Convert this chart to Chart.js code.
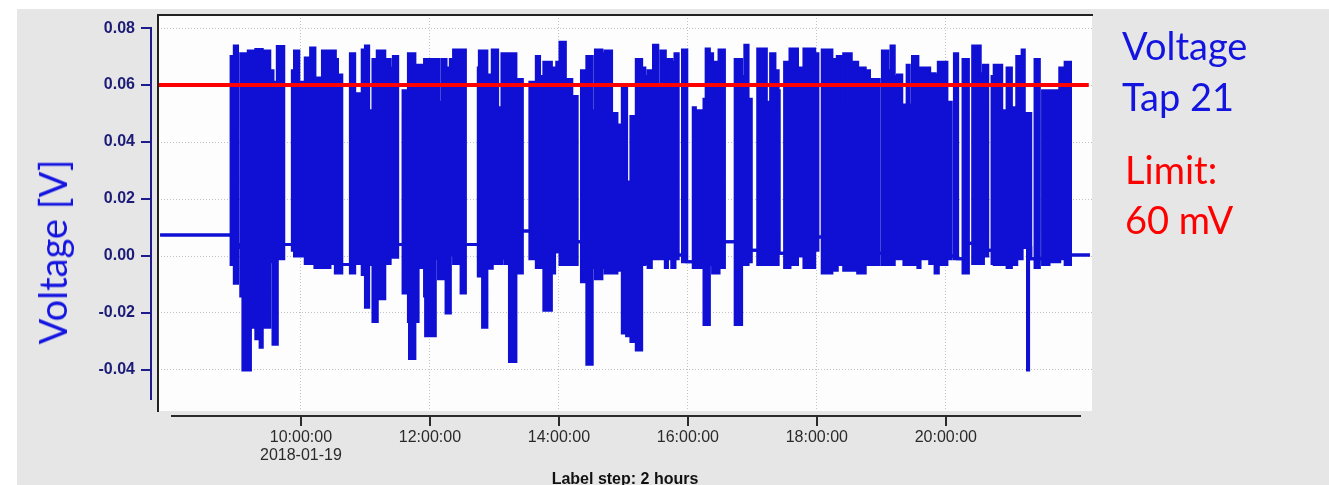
<!DOCTYPE html>
<html>
<head>
<meta charset="utf-8">
<title>Voltage Tap 21</title>
<script src="https://cdn.jsdelivr.net/npm/chart.js@4.4.1/dist/chart.umd.min.js"></script>
<style>
  html, body { margin: 0; padding: 0; background: #fff; }
  #wrap { position: relative; width: 1329px; height: 485px; overflow: hidden; }
  #bg { position: absolute; left: 17px; top: 9px; right: 0; bottom: 0; background: #e6e6e6; }
  #chart { position: absolute; left: 0; top: 0; }
  .note { position: absolute; font-family: Lato, "Open Sans", sans-serif; font-size: 38px; white-space: nowrap; }
</style>
</head>
<body>
<div id="wrap">
  <div id="bg"></div>
  <canvas id="chart" width="1329" height="485"></canvas>
  <div class="note" id="ytitle" style="left:52px; top:252px; line-height:38px; color:#1414e0; transform:translate(-50%,-50%) rotate(-90deg);">Voltage [V]</div>
  <div class="note" style="left:1122px; top:20px; line-height:51px; color:#1414e0;">Voltage<br>Tap 21</div>
  <div class="note" style="left:1125px; top:144px; line-height:50px; color:#ff0000;">Limit:<br>60 mV</div>
</div>
<script>
// minutes after 00:00 on 2018-01-19; each value holds until the next time
const times = [
  469, 535, 538, 541, 544, 546, 549, 551, 553, 558,
  562, 564, 571, 574, 578, 584, 592, 594, 598, 604,
  607, 609, 613, 619, 620, 627, 632, 634, 638, 646,
  650, 657, 660, 663, 667, 671, 678, 683, 686, 690,
  695, 700, 701, 706, 709, 715, 716, 725, 728, 731,
  735, 739, 742, 749, 753, 765, 766, 769, 773, 778,
  783, 787, 790, 794, 800, 806, 813, 819, 822, 826,
  833, 836, 838, 841, 846, 852, 857, 861, 866, 871,
  874, 880, 883, 889, 894, 899, 903, 907, 912, 917,
  920, 923, 926, 928, 932, 935, 939, 941, 945, 948,
  951, 955, 959, 965, 967, 969, 973, 975, 977, 980,
  983, 987, 989, 994, 1004, 1010, 1013, 1016, 1019, 1025,
  1033, 1037, 1041, 1044, 1045, 1050, 1055, 1062, 1068, 1078,
  1081, 1085, 1094, 1099, 1103, 1105, 1112, 1118, 1125, 1129,
  1131, 1138, 1141, 1146, 1149, 1152, 1155, 1159, 1161, 1164,
  1166, 1169, 1174, 1176, 1185, 1190, 1193, 1201, 1205, 1208,
  1211, 1216, 1221, 1225, 1232, 1235, 1239, 1243, 1245, 1252,
  1257, 1261, 1266, 1271, 1273, 1276, 1277, 1279, 1283, 1287,
  1290, 1296, 1306, 1311, 1316, 1334
];

// upper edge of the voltage trace [V]
const highs = [
  0.0074, 0.070, 0.0737, 0.004, 0.071, 0.071, 0.055, 0.072, 0.072, 0.0725,
  0.0725, 0.072, 0.065, 0.061, 0.0735, 0.004, 0.065, 0.072, 0.061, 0.0695,
  0.056, 0.073, 0.0625, 0.050, 0.072, 0.072, 0.069, 0.0635, -0.003, 0.071,
  0.057, 0.0723, 0.0737, 0.051, 0.069, 0.072, 0.069, 0.066, 0.070, 0.004,
  0.058, 0.071, 0.071, 0.067, 0.067, 0.069, 0.069, 0.069, 0.054, 0.069,
  0.066, 0.069, 0.0723, 0.0723, 0.004, 0.066, 0.072, 0.072, 0.0635, 0.0723,
  0.052, 0.071, 0.071, 0.071, 0.062, 0.0088, 0.061, 0.070, 0.063, 0.068,
  0.066, 0.0015, 0.068, 0.075, 0.062, 0.056, 0.005, 0.065, 0.070, 0.051,
  0.0723, 0.071, 0.072, 0.050, 0.046, 0.059, 0.026, 0.049, 0.069, 0.066,
  0.063, 0.065, 0.059, 0.074, 0.059, 0.072, 0.067, 0.069, 0.068, 0.071,
  0.0004, 0.0723, -0.002, 0.052, -0.002, 0.051, -0.002, 0.055, 0.0727, 0.071,
  0.068, 0.055, 0.0723, 0.005, 0.069, 0.063, 0.074, 0.055, 0.002, 0.0727,
  0.054, 0.071, 0.065, 0.058, 0.001, 0.068, 0.0727, 0.066, 0.0727, 0.071,
  0.0067, 0.0723, 0.069, 0.070, 0.053, 0.071, 0.068, 0.066, 0.065, 0.056,
  0.062, 0.001, 0.072, 0.065, 0.0737, 0.063, 0.0635, 0.000, 0.053, 0.067,
  0.053, 0.070, 0.066, 0.066, 0.064, 0.0635, 0.068, 0.054, 0.000, 0.071,
  -0.001, 0.069, 0.0045, 0.0737, 0.064, 0.067, 0.002, 0.063, 0.067, 0.051,
  0.066, 0.052, 0.070, 0.0723, 0.050, 0.050, 0.050, -0.001, 0.069, -0.001,
  0.058, 0.058, 0.066, 0.068, 0.0004, 0.0004
];

// lower edge of the voltage trace [V]
const lows = [
  0.0074, -0.003, -0.0096, 0.003, -0.014, -0.040, -0.040, -0.040, -0.025, -0.029,
  -0.032, -0.025, -0.002, -0.031, -0.001, 0.004, 0.002, 0.000, 0.000, -0.0026,
  -0.0026, -0.0026, -0.004, -0.004, -0.004, -0.0026, -0.006, -0.006, -0.003, -0.006,
  -0.0026, -0.0065, -0.018, -0.003, -0.023, -0.015, -0.0026, -0.0004, -0.0004, 0.004,
  -0.013, -0.023, -0.036, -0.023, -0.004, -0.014, -0.028, -0.0008, -0.008, -0.008,
  -0.020, 0.0004, -0.0026, -0.013, 0.004, -0.007, -0.007, -0.025, -0.0043, -0.0026,
  -0.0026, -0.0008, -0.0026, -0.037, -0.006, 0.0088, -0.001, -0.004, -0.004, -0.019,
  -0.006, 0.0015, 0.0015, -0.003, -0.003, -0.003, 0.005, -0.009, -0.038, -0.004,
  -0.008, -0.004, -0.006, -0.006, -0.005, -0.027, -0.028, -0.030, -0.033, -0.003,
  -0.0026, -0.004, -0.001, -0.001, -0.001, -0.001, -0.004, -0.001, -0.004, -0.001,
  0.0004, -0.002, -0.002, -0.004, -0.002, -0.004, -0.002, -0.024, -0.024, -0.003,
  -0.006, -0.006, -0.004, 0.005, -0.024, -0.003, -0.003, -0.002, 0.002, -0.003,
  -0.003, -0.003, -0.003, 0.001, 0.001, -0.004, -0.003, 0.000, -0.004, 0.002,
  0.0067, -0.006, -0.005, -0.003, -0.003, -0.005, -0.005, -0.006, -0.003, -0.003,
  -0.003, 0.001, -0.003, -0.003, -0.003, -0.001, -0.001, 0.000, -0.003, -0.003,
  -0.003, -0.003, -0.004, -0.001, -0.0026, -0.006, -0.003, -0.001, 0.000, -0.001,
  -0.001, -0.006, 0.0045, -0.0026, -0.0026, 0.000, 0.002, -0.0026, -0.003, -0.003,
  -0.004, -0.003, -0.001, 0.003, 0.003, -0.040, 0.003, -0.001, -0.004, -0.001,
  -0.003, -0.002, -0.001, -0.003, 0.0004, 0.0004
];

const limitValue = 0.06;
const limitTimes = [467, 1333];

const xTicks = [600, 720, 840, 960, 1080, 1200];
const xTickLabels = [["10:00:00", "2018-01-19"], "12:00:00", "14:00:00", "16:00:00", "18:00:00", "20:00:00"];
const yTicks = [-0.04, -0.02, 0, 0.02, 0.04, 0.06, 0.08];

const traceBlue = "#1010d4";
const labelFont = '"Liberation Sans", Arial, sans-serif';

// plot frame and the offset axis lines of the original tool
const axisLines = {
  id: "axisLines",
  beforeDraw(chart) {
    const { ctx, chartArea: a } = chart;
    ctx.save();
    ctx.fillStyle = "#fdfdfd";
    ctx.fillRect(a.left, a.top, a.right - a.left, a.bottom - a.top);
    ctx.restore();
  },
  afterDraw(chart) {
    const { ctx, chartArea: a, scales } = chart;
    ctx.save();
    ctx.lineWidth = 2;

    ctx.strokeStyle = "#222";
    ctx.beginPath();
    ctx.moveTo(a.left, a.bottom + 1);
    ctx.lineTo(a.left, a.top);
    ctx.lineTo(a.right + 1, a.top);
    ctx.stroke();

    // y axis (blue)
    const yx = a.left - 7;
    ctx.strokeStyle = "#1c1c8c";
    ctx.beginPath();
    ctx.moveTo(yx, scales.y.getPixelForValue(yTicks[yTicks.length - 1]) - 1);
    ctx.lineTo(yx, a.bottom - 11);
    scales.y.ticks.forEach((t) => {
      const py = Math.round(scales.y.getPixelForValue(t.value));
      ctx.moveTo(yx - 10, py);
      ctx.lineTo(yx, py);
    });
    ctx.stroke();

    // x axis (black)
    const xy = a.bottom + 5;
    ctx.strokeStyle = "#2a2a2a";
    ctx.beginPath();
    ctx.moveTo(a.left + 13, xy);
    ctx.lineTo(a.right - 11, xy);
    scales.x.ticks.forEach((t) => {
      const px = Math.round(scales.x.getPixelForValue(t.value));
      ctx.moveTo(px, xy);
      ctx.lineTo(px, xy + 10);
    });
    ctx.stroke();
    ctx.restore();
  },
};

new Chart(document.getElementById("chart"), {
  type: "line",
  data: {
    datasets: [
      {
        label: "Limit",
        data: limitTimes.map((t) => ({ x: t, y: limitValue })),
        borderColor: "#ff0000",
        borderWidth: 4,
        pointRadius: 0,
        fill: false,
        order: 0,
      },
      {
        label: "Voltage max",
        data: times.map((t, i) => ({ x: t, y: highs[i] })),
        borderColor: traceBlue,
        backgroundColor: traceBlue,
        borderWidth: 3,
        pointRadius: 0,
        stepped: true,
        fill: "+1",
        order: 1,
      },
      {
        label: "Voltage min",
        data: times.map((t, i) => ({ x: t, y: lows[i] })),
        borderColor: traceBlue,
        borderWidth: 3,
        pointRadius: 0,
        stepped: true,
        fill: false,
        order: 2,
      },
    ],
  },
  options: {
    animation: false,
    responsive: false,
    events: [],
    layout: { padding: { top: 15, right: 237, bottom: 0, left: 0 } },
    plugins: {
      legend: { display: false },
      tooltip: { enabled: false },
    },
    scales: {
      x: {
        type: "linear",
        min: 467,
        max: 1336,
        afterFit: (s) => { s.height = 74; },
        afterBuildTicks: (s) => { s.ticks = xTicks.map((v) => ({ value: v })); },
        grid: { color: "#c2c2c2", lineWidth: 1, drawTicks: false },
        border: { display: false, dash: [1, 2] },
        ticks: {
          padding: 18,
          color: "#2a2a2a",
          maxRotation: 0,
          autoSkip: false,
          font: { family: labelFont, size: 16, lineHeight: 1.12 },
          callback: (v, i) => xTickLabels[i],
        },
        title: {
          display: true,
          text: "Label step: 2 hours",
          color: "#111",
          font: { family: labelFont, size: 16, weight: "bold" },
          padding: { top: 0, bottom: -4 },
        },
      },
      y: {
        min: -0.0544,
        max: 0.0846,
        afterFit: (s) => { s.width = 158; },
        afterBuildTicks: (s) => { s.ticks = yTicks.map((v) => ({ value: v })); },
        // invisible tick marks keep the labels 23px off the plot frame
        grid: { color: "#c2c2c2", lineWidth: 1, drawTicks: true, tickLength: 23, tickColor: "rgba(0,0,0,0)" },
        border: { display: false, dash: [1, 2] },
        ticks: {
          padding: 0,
          color: "#1c1c78",
          font: { family: labelFont, size: 16, weight: "bold" },
          callback: (v) => v.toFixed(2),
        },
      },
    },
  },
  plugins: [axisLines],
});
</script>
</body>
</html>
